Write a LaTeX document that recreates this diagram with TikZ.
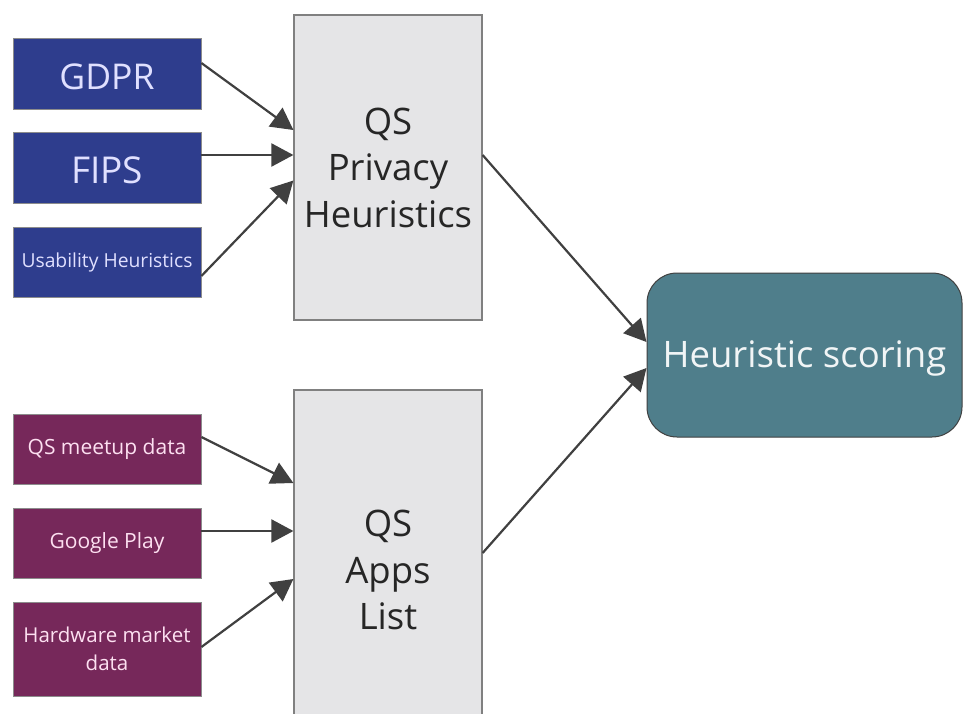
\documentclass[tikz,border=0pt]{standalone}
\usepackage{fontspec}
\setmainfont{Open Sans}
\usetikzlibrary{arrows.meta}
\definecolor{srcblue}{HTML}{2E3D8D}
\definecolor{srcpurple}{HTML}{76285A}
\definecolor{midgrey}{HTML}{E5E5E7}
\definecolor{teal}{HTML}{4F7E8B}
\definecolor{arrowc}{HTML}{404040}
\newcommand{\lowertext}[1]{\raisebox{-3pt}[\height][\depth]{#1}}
\tikzset{
  bluebox/.style={draw=black!45, line width=0.8pt, fill=srcblue, text=white!88!blue, minimum width=188pt, minimum height=71pt, inner sep=0pt, align=center},
  purplebox/.style={draw=black!45, line width=0.8pt, fill=srcpurple, text=white!88!magenta, minimum width=188pt, minimum height=70pt, inner sep=0pt, align=center, font=\fontsize{21}{26}\selectfont},
  greybox/.style={draw=black!50, line width=1.2pt, fill=midgrey, text=black!85, minimum width=188pt, inner sep=0pt, align=center, font=\fontsize{36.5}{46.5}\selectfont},
  scorebox/.style={draw=black!75, line width=1pt, fill=teal, text=white!92!teal, rounded corners=30pt, minimum width=315pt, minimum height=164pt, inner sep=0pt, font=\fontsize{36.5}{40}\selectfont},
  flow/.style={draw=arrowc, line width=2.2pt, -{Triangle[length=22pt,width=23pt]}}
}
\begin{document}
\begin{tikzpicture}[x=1pt,y=-1pt]
\useasboundingbox (0,0) rectangle (963,713);
\clip (0,0) rectangle (963,713);
\fill[white] (0,0) rectangle (963,713);
% source boxes
\node[bluebox, font=\fontsize{35.5}{40}\selectfont] (gdpr) at (107,73.5) {\lowertext{GDPR}};
\node[bluebox, font=\fontsize{37}{40}\selectfont] (fips) at (107,167.5) {\lowertext{FIPS}};
\node[bluebox, minimum height=70pt, font=\fontsize{19.3}{24}\selectfont] (usab) at (107,262) {Usability Heuristics};
\node[purplebox] (meet) at (107,449) {QS meetup data};
\node[purplebox] (gplay) at (107,543) {Google Play};
\node[purplebox, minimum height=94pt, font=\fontsize{20.5}{28}\selectfont] (hw) at (107,649) {Hardware market\\data};
% middle boxes
\node[greybox, minimum height=305pt] (priv) at (388,167.5) {QS\\Privacy\\Heuristics};
\node[greybox, minimum height=360pt] (apps) at (388,570) {QS\\Apps\\List};
% target
\node[scorebox] (score) at (804.5,355) {\lowertext{Heuristic scoring}};
% connectors
\draw[flow] ([yshift=10.5pt]gdpr.east) -- ([yshift=37.5pt]priv.west);
\draw[flow] ([yshift=12.5pt]fips.east) -- ([yshift=12.5pt]priv.west);
\draw[flow] ([yshift=-14pt]usab.east) -- ([yshift=-13pt]priv.west);
\draw[flow] ([yshift=12pt]meet.east) -- ([yshift=87pt]apps.west);
\draw[flow] ([yshift=12pt]gplay.east) -- ([yshift=39pt]apps.west);
\draw[flow] ([yshift=2pt]hw.east) -- ([yshift=-9pt]apps.west);
\draw[flow] ([yshift=12.5pt]priv.east) -- ([yshift=13pt]score.west);
\draw[flow] ([yshift=17pt]apps.east) -- ([yshift=-13pt]score.west);
\end{tikzpicture}
\end{document}
